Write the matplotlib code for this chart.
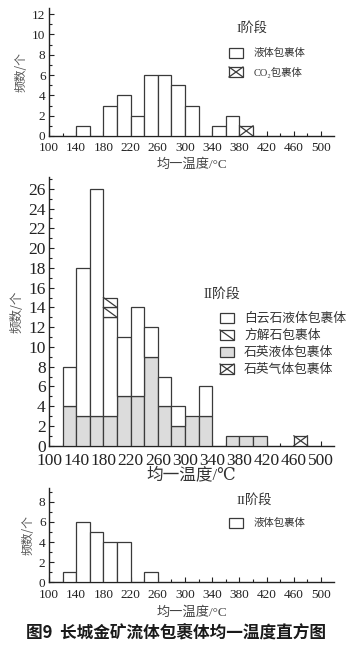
import matplotlib
matplotlib.use("Agg")
import matplotlib.pyplot as plt
from matplotlib.patches import Rectangle
from matplotlib.lines import Line2D
from matplotlib.ticker import MultipleLocator

# ---------------- data ----------------
bin_width = 20
x_ticks = [100, 140, 180, 220, 260, 300, 340, 380, 420, 460, 500]

# Stage I
s1_liquid_bins = [140, 180, 200, 220, 240, 260, 280, 300, 340, 360]
s1_liquid = [1, 3, 4, 2, 6, 6, 5, 3, 1, 2]
s1_co2_bins = [380]
s1_co2 = [1]

# Stage II
s2_bins = [120, 140, 160, 180, 200, 220, 240, 260, 280, 300, 320, 360, 380, 400]
s2_quartz_liquid = [4, 3, 3, 3, 5, 5, 9, 4, 2, 3, 3, 1, 1, 1]
s2_dolomite = [4, 15, 23, 10, 6, 9, 3, 3, 2, 0, 3, 0, 0, 0]
s2_calcite = [0, 0, 0, 2, 0, 0, 0, 0, 0, 0, 0, 0, 0, 0]
s2_quartz_gas_bins = [460]
s2_quartz_gas = [1]

# Third panel (labelled II阶段 in the figure)
s3_bins = [120, 140, 160, 180, 200, 240]
s3_liquid = [1, 6, 5, 4, 4, 1]

# ---------------- style ----------------
W, H = 352, 648
CJK = 'Noto Sans CJK SC'
SERIF = ['Liberation Serif', 'DejaVu Serif', CJK]
MIX = ['Liberation Serif', 'DejaVu Serif', CJK]
EDGE = '#3a3a3a'
GRAY = '#dcdcdc'
LW = 0.9

fig = plt.figure(figsize=(W / 100, H / 100), dpi=100)


def fx(px):
    return px / W


def fy(py):
    return 1 - py / H


def make_ax(top, bottom, ymax, fs, xpad):
    ax = fig.add_axes([fx(49), fy(bottom), fx(334) - fx(49), fy(top) - fy(bottom)])
    ax.set_xlim(100, 519)
    ax.set_ylim(0, ymax)
    for s in ['top', 'right']:
        ax.spines[s].set_visible(False)
    for s in ['left', 'bottom']:
        ax.spines[s].set_color('#222222')
        ax.spines[s].set_linewidth(1.0)
    ax.set_xticks(x_ticks)
    ax.xaxis.set_minor_locator(MultipleLocator(20))
    ax.yaxis.set_major_locator(MultipleLocator(2))
    ax.yaxis.set_minor_locator(MultipleLocator(1))
    ax.tick_params(axis='both', which='both', direction='in', color='#222222', width=0.8)
    ax.tick_params(axis='both', which='major', length=3.5)
    ax.tick_params(axis='y', which='major', pad=2.5)
    ax.tick_params(axis='x', which='major', pad=xpad)
    ax.tick_params(axis='both', which='minor', length=2.5)
    for lab in ax.get_xticklabels() + ax.get_yticklabels():
        lab.set_family(SERIF)
        lab.set_fontsize(fs)
        lab.set_color('#222222')
    ax.set_facecolor('none')
    return ax


def unit_boxes(ax, bins, counts, bottoms, kind):
    for b, c, base in zip(bins, counts, bottoms):
        for k in range(c):
            y0 = base + k
            ax.bar(b, 1, width=bin_width, bottom=y0, align='edge',
                   color='white', edgecolor=EDGE, linewidth=LW, zorder=3)
            ax.plot([b, b + bin_width], [y0 + 1, y0], color=EDGE, lw=LW, zorder=4)
            if kind == 'cross':
                ax.plot([b, b + bin_width], [y0, y0 + 1], color=EDGE, lw=LW, zorder=4)


def legend_box(px, py, kind, w=14, h=10):
    x0, y0 = fx(px), fy(py + h / 2)
    x1, y1 = fx(px + w), fy(py - h / 2)
    face = GRAY if kind == 'gray' else 'white'
    fig.add_artist(Rectangle((x0, y0), x1 - x0, y1 - y0, transform=fig.transFigure,
                             facecolor=face, edgecolor=EDGE, linewidth=LW))
    if kind in ('diag', 'cross'):
        fig.add_artist(Line2D([x0, x1], [y1, y0], transform=fig.transFigure, color=EDGE, lw=LW))
    if kind == 'cross':
        fig.add_artist(Line2D([x0, x1], [y0, y1], transform=fig.transFigure, color=EDGE, lw=LW))


def ftext(px, py, s, fs, family=CJK, weight='normal', ha='left', color='#333333'):
    fig.text(fx(px), fy(py), s, fontsize=fs, family=family, weight=weight,
             ha=ha, va='center', color=color)


# ---------------- panel 1 ----------------
ax1 = make_ax(8, 136, 12.6, 9.5, 4.5)
ax1.bar(s1_liquid_bins, s1_liquid, width=bin_width, align='edge', color='white',
        edgecolor=EDGE, linewidth=LW, zorder=3)
unit_boxes(ax1, s1_co2_bins, s1_co2, [0] * len(s1_co2), 'cross')
ax1.set_xlabel('均一温度/°C', family=MIX, fontsize=9.5, color='#444444', labelpad=3)
ax1.set_ylabel('频数/个', family=CJK, fontsize=8.5, color='#555555', labelpad=3)

ftext(236, 28, 'I阶段', 9.5, family=MIX)
legend_box(229, 53, 'white')
ftext(254, 53, '液体包裹体', 7.5)
legend_box(229, 72, 'cross')
ftext(254, 72, 'CO₂包裹体', 7.5, family=MIX)

# ---------------- panel 2 ----------------
ax2 = make_ax(177, 445.7, 27.2, 12.5, 5)
ax2.bar(s2_bins, s2_quartz_liquid, width=bin_width, align='edge', color=GRAY,
        edgecolor=EDGE, linewidth=LW, zorder=3)
dol_bins = [b for b, d in zip(s2_bins, s2_dolomite) if d > 0]
dol_h = [d for d in s2_dolomite if d > 0]
dol_bot = [q for q, d in zip(s2_quartz_liquid, s2_dolomite) if d > 0]
ax2.bar(dol_bins, dol_h, width=bin_width, bottom=dol_bot, align='edge', color='white',
        edgecolor=EDGE, linewidth=LW, zorder=3)
cal_bot = [q + d for q, d in zip(s2_quartz_liquid, s2_dolomite)]
unit_boxes(ax2, s2_bins, s2_calcite, cal_bot, 'diag')
unit_boxes(ax2, s2_quartz_gas_bins, s2_quartz_gas, [0] * len(s2_quartz_gas), 'cross')
ax2.set_xlabel('均一温度/℃', family=MIX, fontsize=12, color='#333333', labelpad=-1)
ax2.set_ylabel('频数/个', family=CJK, fontsize=9, color='#555555', labelpad=3)

ftext(204, 294, 'II阶段', 10, family=MIX)
legend_box(220, 318, 'white')
ftext(244, 318, '白云石液体包裹体', 9.2)
legend_box(220, 335, 'diag')
ftext(244, 335, '方解石包裹体', 9.2)
legend_box(220, 352, 'gray')
ftext(244, 352, '石英液体包裹体', 9.2)
legend_box(220, 369, 'cross')
ftext(244, 369, '石英气体包裹体', 9.2)

# ---------------- panel 3 ----------------
ax3 = make_ax(488, 582.3, 9.36, 9.5, 4.5)
ax3.bar(s3_bins, s3_liquid, width=bin_width, align='edge', color='white',
        edgecolor=EDGE, linewidth=LW, zorder=3)
ax3.set_xlabel('均一温度/°C', family=MIX, fontsize=9.5, color='#444444', labelpad=4)
ax3.set_ylabel('频数/个', family=CJK, fontsize=8.5, color='#555555', labelpad=3)

ftext(236, 500, 'II阶段', 9.5, family=MIX)
legend_box(229, 523, 'white')
ftext(254, 523, '液体包裹体', 7.5)

# ---------------- caption ----------------
ftext(176, 634, '图9  长城金矿流体包裹体均一温度直方图', 12, weight='bold',
      ha='center', color='#1a1a1a')

fig.savefig('out.png', dpi=100)
